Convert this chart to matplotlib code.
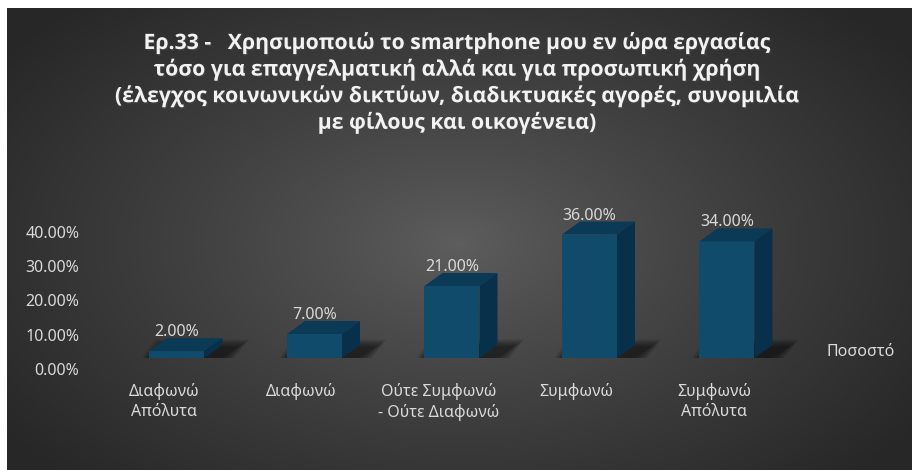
import matplotlib
matplotlib.use('Agg')
import matplotlib.pyplot as plt
import matplotlib.transforms as mtransforms
import matplotlib.patheffects as pe
from matplotlib.patches import Polygon
import numpy as np

# Survey answers and their shares (%)
categories = ['Διαφωνώ\nΑπόλυτα', 'Διαφωνώ', 'Ούτε Συμφωνώ\n- Ούτε Διαφωνώ',
              'Συμφωνώ', 'Συμφωνώ\nΑπόλυτα']
values = [2.0, 7.0, 21.0, 36.0, 34.0]
yticks = [0, 10, 20, 30, 40]
series_name = 'Ποσοστό'
title = ('Ερ.33 -   Χρησιμοποιώ το smartphone μου εν ώρα εργασίας\n'
         'τόσο για επαγγελματική αλλά και για προσωπική χρήση\n'
         '(έλεγχος κοινωνικών δικτύων, διαδικτυακές αγορές, συνομιλία\n'
         'με φίλους και οικογένεια)')

plt.rcParams['font.family'] = ['Noto Sans', 'DejaVu Sans']

W, H = 914, 470
fig = plt.figure(figsize=(W / 100, H / 100), dpi=100, facecolor='white')

# ---- dark radial background ----
bg = fig.add_axes([7 / W, 0, (W - 9) / W, (H - 8) / H])
bg.set_axis_off()
yy, xx = np.mgrid[0:462, 0:905]
r = np.sqrt(((xx - 450) / 560) ** 2 + ((yy - 235) / 330) ** 2)
t = np.clip(r, 0, 1) ** 0.85
c_in = np.array([0x5e, 0x5e, 0x5e]) / 255
c_out = np.array([0x27, 0x27, 0x27]) / 255
img = c_in * (1 - t[..., None]) + c_out * t[..., None]
bg.imshow(img, aspect='auto', interpolation='bilinear')

# ---- main axes ----
ymax = 50
px_per_pct = 3.43
ax = fig.add_axes([80.75 / W, (H - 358) / H, 770 / W, ymax * px_per_pct / H])
ax.set_xlim(-0.7, 4.9)
ax.set_ylim(0, ymax)
ax.patch.set_alpha(0)
for s in ax.spines.values():
    s.set_visible(False)

x = np.arange(len(values))
width = 0.4
ddx = 18 / 137.5            # depth of the 3D bars, in category units
ddy = 13 / px_per_pct       # depth of the 3D bars, in % units

front_c = '#114B6C'
top_c = '#0B3A56'
side_c = '#08304A'
text_c = '#d9d9d9'

# soft shadows on the floor
for xi, v in zip(x, values):
    xl, xr = xi - width / 2, xi + width / 2
    for k in range(7):
        gx = 0.012 * k
        gy = 0.35 * k
        shadow = Polygon([(xl - 0.04 - gx, -1.2 - gy), (xr + 0.08 + gx, -1.2 - gy),
                          (xr + ddx + 0.12 + gx, ddy - 0.5 + gy),
                          (xl + ddx - 0.02 - gx, ddy - 0.5 + gy)],
                         closed=True, facecolor='black', edgecolor='none',
                         alpha=0.09, zorder=1)
        ax.add_patch(shadow)

bars = ax.bar(x, values, width=width, color=front_c, zorder=3, label=series_name)

for xi, v in zip(x, values):
    xl, xr = xi - width / 2, xi + width / 2
    top = Polygon([(xl, v), (xr, v), (xr + ddx, v + ddy), (xl + ddx, v + ddy)],
                  closed=True, facecolor=top_c, edgecolor='none', zorder=3)
    side = Polygon([(xr, 0), (xr + ddx, ddy), (xr + ddx, v + ddy), (xr, v)],
                   closed=True, facecolor=side_c, edgecolor='none', zorder=3)
    ax.add_patch(top)
    ax.add_patch(side)
    ax.annotate(f'{v:.2f}%', (xi, v), xytext=(0, 19), textcoords='offset pixels',
                ha='center', va='center', fontsize=11.5, color=text_c, zorder=4)

# value axis labels sit a little below the bar floor
ax.set_yticks(yticks)
ax.set_yticklabels([f'{t:.2f}%' for t in yticks])
ax.tick_params(axis='y', length=0, pad=1, labelsize=11.5, labelcolor=text_c)
y_shift = mtransforms.ScaledTranslation(0, -11 / 100, fig.dpi_scale_trans)
for tick in ax.yaxis.get_major_ticks():
    tick.label1.set_transform(tick.label1.get_transform() + y_shift)

ax.set_xticks(x)
ax.set_xticklabels(categories)
ax.tick_params(axis='x', length=0, pad=18, labelsize=11.5, labelcolor=text_c)
x_shift = mtransforms.ScaledTranslation(-13 / 100, 0, fig.dpi_scale_trans)
for tick in ax.xaxis.get_major_ticks():
    tick.label1.set_transform(tick.label1.get_transform() + x_shift)
    tick.label1.set_linespacing(1.3)

leg = ax.legend(handles=[bars], labels=[series_name], loc='center left',
                bbox_to_anchor=(826 / W, 1 - 352 / H), bbox_transform=fig.transFigure,
                frameon=False, handlelength=0, handletextpad=0, borderpad=0,
                borderaxespad=0, fontsize=11.5, labelcolor=text_c)
for h in leg.legend_handles:
    h.set_visible(False)

fig.text(457 / W, 1 - 32 / H, title, ha='center', va='top', fontsize=15.3,
         family=['Open Sans', 'DejaVu Sans'], fontweight='bold', color='#f2f2f2',
         linespacing=1.27,
         path_effects=[pe.withSimplePatchShadow(offset=(1, -1), alpha=0.5)])

fig.savefig('out.png', dpi=100, facecolor=fig.get_facecolor())
